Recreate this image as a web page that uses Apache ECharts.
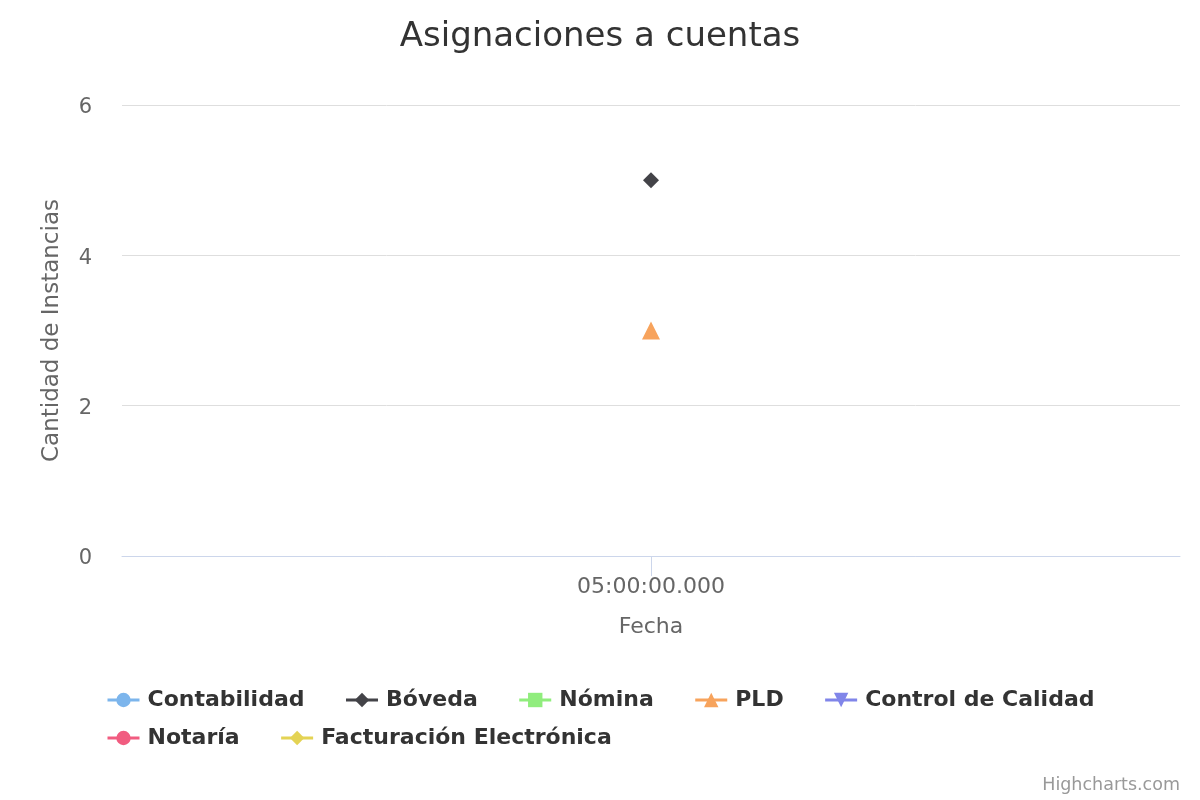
<!DOCTYPE html>
<html>
<head>
<meta charset="utf-8">
<script src="https://cdn.jsdelivr.net/npm/echarts@6/dist/echarts.min.js"></script>
<style>html,body{margin:0;padding:0;background:#fff}#c{width:1200px;height:800px}</style>
</head>
<body>
<div id="c"></div>
<script>
const categories = ['05:00:00.000'];
const seriesNames = ['Contabilidad', 'Bóveda', 'Nómina', 'PLD', 'Control de Calidad', 'Notaría', 'Facturación Electrónica'];
const contabilidad = [null];
const boveda = [5];
const nomina = [null];
const pld = [3];
const controlCalidad = [null];
const notaria = [null];
const facturacion = [null];
const yTicks = [0, 2, 4, 6];

const colors = ['#7cb5ec', '#434348', '#90ed7d', '#f7a35c', '#8085e9', '#f15c80', '#e4d354'];
const symbols = ['circle', 'diamond', 'rect', 'triangle', 'path://M0,0 L10,0 L5,10 Z', 'circle', 'diamond'];
const values = [contabilidad, boveda, nomina, pld, controlCalidad, notaria, facturacion];
const FONT = 'DejaVu Sans';

const chart = echarts.init(document.getElementById('c'), null, {renderer: 'canvas'});
const legendCommon = {
  orient: 'horizontal',
  padding: 0,
  itemWidth: 32,
  itemHeight: 18,
  itemGap: 40,
  lineStyle: {width: 3},
  textStyle: {fontFamily: FONT, fontSize: 22, fontWeight: 'bold', color: '#333333', padding: [0, 0, 0, 3]}
};
chart.setOption({
  animation: false,
  color: colors,
  title: {
    text: 'Asignaciones a cuentas',
    left: 'center',
    top: 15,
    textStyle: {fontFamily: FONT, fontSize: 34, fontWeight: 'normal', color: '#333333'}
  },
  legend: [
    Object.assign({}, legendCommon, {left: 106, top: 689, data: seriesNames.slice(0, 5)}),
    Object.assign({}, legendCommon, {left: 106, top: 727, data: seriesNames.slice(5)})
  ],
  grid: {left: 122, right: 20, top: 105, bottom: 244, containLabel: false},
  xAxis: {
    type: 'category',
    data: categories,
    boundaryGap: true,
    name: 'Fecha',
    nameLocation: 'middle',
    nameGap: 60,
    nameTextStyle: {fontFamily: FONT, fontSize: 22, color: '#666666'},
    axisLine: {lineStyle: {color: '#ccd6eb', width: 1}},
    axisTick: {show: true, interval: 0, alignWithLabel: true, length: 20, lineStyle: {color: '#ccd6eb', width: 1}},
    axisLabel: {fontFamily: FONT, fontSize: 22, color: '#666666', margin: 20},
    splitLine: {show: false}
  },
  yAxis: {
    type: 'value',
    min: yTicks[0],
    max: yTicks[yTicks.length - 1],
    interval: 2,
    name: 'Cantidad de Instancias',
    nameLocation: 'middle',
    nameGap: 58,
    nameTextStyle: {fontFamily: FONT, fontSize: 23, color: '#666666'},
    axisLine: {show: false},
    axisTick: {show: false},
    axisLabel: {
      fontFamily: FONT, fontSize: 21, color: '#666666', margin: 30,
      formatter: '{v|{value}}',
      rich: {v: {fontFamily: FONT, fontSize: 21, color: '#666666', padding: [6, 0, 0, 0]}}
    },
    splitLine: {lineStyle: {color: '#dedede', width: 1}}
  },
  series: seriesNames.map((n, i) => ({
    name: n,
    type: 'line',
    data: values[i],
    symbol: symbols[i],
    symbolSize: i === 1 ? 16 : 18,
    showAllSymbol: true,
    lineStyle: {width: 3, color: colors[i]},
    itemStyle: {color: colors[i]},
    emphasis: {disabled: true}
  })),
  graphic: [{
    type: 'text',
    right: 20,
    bottom: 6,
    style: {text: 'Highcharts.com', fontFamily: FONT, fontSize: 17.5, fill: '#999999'}
  }]
});
</script>
</body>
</html>
